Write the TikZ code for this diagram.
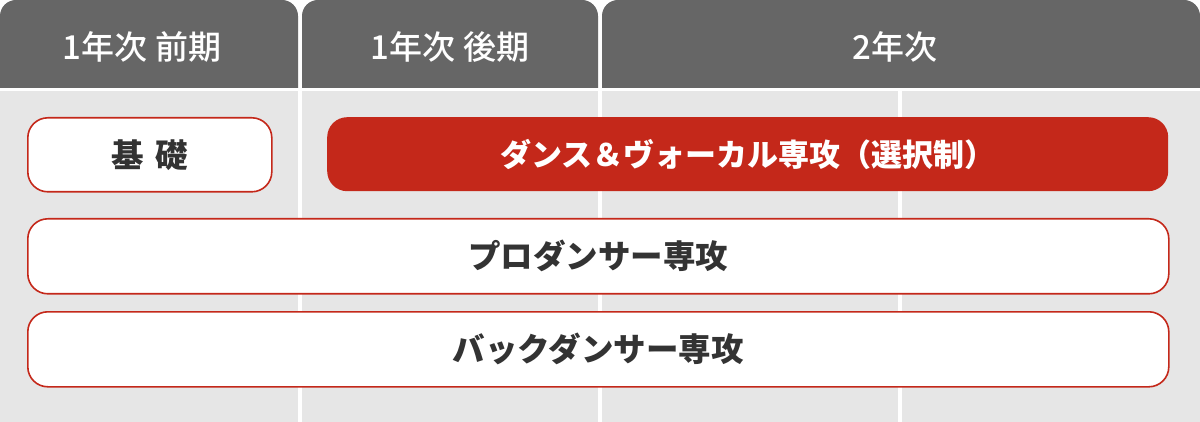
\documentclass[tikz,border=0pt]{standalone}
\usepackage{fontspec}
\setmainfont{Noto Sans CJK JP}
\newfontfamily\hdrfont{Noto Sans CJK JP Medium}
\definecolor{hdrgray}{HTML}{666666}
\definecolor{bodygray}{HTML}{E6E6E6}
\definecolor{accent}{HTML}{C4281A}
\definecolor{txt}{HTML}{333333}
\tikzset{
  hdrcell/.style={fill=hdrgray, rounded corners=16pt},
  hdrtext/.style={text=white, font=\hdrfont\fontsize{33}{38}\selectfont, inner sep=0pt},
  whitebox/.style={draw=accent, line width=1.6pt, fill=white, rounded corners=20pt,
    anchor=north west, inner sep=0pt, text=txt, font=\fontsize{32.5}{38}\selectfont\bfseries},
  redbox/.style={fill=accent, rounded corners=20pt, anchor=north west, inner sep=0pt,
    text=white, font=\fontsize{31}{36}\selectfont\bfseries},
  sepline/.style={draw=white, line width=4pt}
}
\begin{document}
\begin{tikzpicture}[x=1pt,y=-1pt]
\useasboundingbox (0,0) rectangle (1200,422);
\fill[white] (0,0) rectangle (1200,422);
% header cells
\fill[hdrcell] (0,0) rectangle (298,130);
\fill[hdrcell] (302,0) rectangle (598,130);
\fill[hdrcell] (602,0) rectangle (1200,130);
\fill[white] (0,88) rectangle (1200,91);
% body
\fill[bodygray] (0,91) rectangle (1200,422);
\foreach \xx in {300,600,900} \draw[sepline] (\xx,91) -- (\xx,422);
% header labels
\node[hdrtext] (h1) at (142,47) {1年次 前期};
\node[hdrtext] (h2) at (450,47) {1年次 後期};
\node[hdrtext] (h3) at (895,47) {2年次};
% boxes
\node[whitebox, minimum width=244pt, minimum height=74pt] (kiso) at (27,117) {基\hspace{12pt}礎};
\node[redbox, minimum width=841pt, minimum height=74pt] (dv) at (327,117) {ダンス＆ヴォーカル専攻（選択制）};
\node[whitebox, minimum width=1141pt, minimum height=75pt] (pro) at (27,218) {プロダンサー専攻};
\node[whitebox, minimum width=1141pt, minimum height=75pt] (back) at (27,311) {バックダンサー専攻};
\end{tikzpicture}
\end{document}
